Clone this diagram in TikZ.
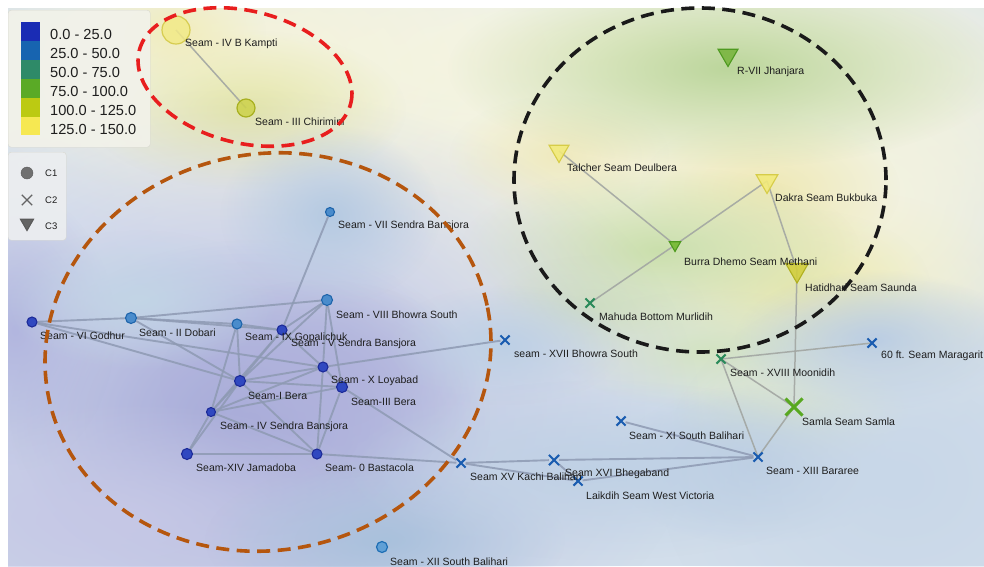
\documentclass[tikz,border=0pt]{standalone}
\usepackage{fontspec}
\setmainfont{Liberation Sans}
\usetikzlibrary{fadings,shapes.geometric,shapes.misc}

\tikzfading[name=softblob, inner color=transparent!0, outer color=transparent!100]

\pgfdeclarelayer{heat}
\pgfdeclarelayer{edges}
\pgfdeclarelayer{top}
\pgfsetlayers{heat,edges,main,top}

% colour scale of the surface
\definecolor{scaleA}{HTML}{1A2CB4}
\definecolor{scaleB}{HTML}{1764B0}
\definecolor{scaleC}{HTML}{2E8A68}
\definecolor{scaleD}{HTML}{5AAA26}
\definecolor{scaleE}{HTML}{BCCA12}
\definecolor{scaleF}{HTML}{F6E852}
% markers
\definecolor{deepfill}{HTML}{3048C0}
\definecolor{deepline}{HTML}{1C2A98}
\definecolor{midfill}{HTML}{4A8CCC}
\definecolor{midline}{HTML}{1E64AA}
\definecolor{crossblue}{HTML}{1A5CB0}
\definecolor{crossgreen}{HTML}{2A8A5A}
\definecolor{crosslime}{HTML}{58A820}
\definecolor{linkgray}{HTML}{8E9AB3}
\definecolor{linkpale}{HTML}{A2A6A2}
\definecolor{labelink}{HTML}{1E1E1E}
\definecolor{ringred}{HTML}{E81E1E}
\definecolor{ringbrown}{HTML}{B5560E}
\definecolor{ringblack}{HTML}{1A1A1A}

% one soft patch of the interpolated surface
\newcommand\heatspot[5]{\fill[fill={#1}, path fading=softblob] (#2,#3) ellipse ({2*#4pt} and {2*#5pt});}

\begin{document}
\begin{tikzpicture}[x=1pt,y=-1pt,
  cone/.style={circle, inner sep=0pt, minimum size=#1, fill=deepfill, draw=deepline, line width=1.1pt},
  cone/.default=10pt,
  conelight/.style={circle, inner sep=0pt, minimum size=#1, fill=midfill, draw=midline, line width=1.1pt},
  conelight/.default=10pt,
  ctwo/.style={cross out, inner sep=0pt, minimum size=7pt, draw=crossblue, line width=2.1pt},
  ctwogreen/.style={ctwo, draw=crossgreen},
  cthree/.style={regular polygon, regular polygon sides=3, shape border rotate=180, inner sep=0pt,
     minimum size=#1, line width=1.1pt},
  lab/.style={anchor=west, inner sep=0pt, text=labelink, font=\fontsize{10.5}{12}\selectfont},
  keytext/.style={anchor=west, inner sep=0pt, text=labelink, font=\fontsize{14.6}{16}\selectfont},
  keysmall/.style={anchor=west, inner sep=0pt, text=labelink, font=\fontsize{9.5}{11}\selectfont},
  link/.style={draw=linkgray, line width=1.9pt, opacity=.85},
  linkr/.style={draw=linkpale, line width=1.5pt, opacity=.9},
  ring/.style={line width=3.6pt, dash pattern=on 13pt off 7.5pt},
]
\useasboundingbox (0,0) rectangle (984,566);

% ---------- interpolated surface ----------
\begin{pgfonlayer}{heat}
\fill[white] (0,0) rectangle (984,566);
\begin{scope}
\clip (8,8) rectangle (984,566);
\fill[fill={rgb,255:red,210;green,222;blue,235}] (8,8) rectangle (984,566);
\heatspot{rgb,255:red,238;green,242;blue,244}{470}{160}{300}{150}
\heatspot{rgb,255:red,226;green,234;blue,241}{250}{230}{200}{80}
\heatspot{rgb,255:red,248;green,247;blue,228}{620}{50}{380}{90}
\heatspot{rgb,255:red,246;green,244;blue,218}{250}{70}{150}{90}
\heatspot{rgb,255:red,246;green,243;blue,216}{720}{190}{200}{110}
\heatspot{rgb,255:red,243;green,243;blue,224}{880}{200}{120}{120}
\heatspot{rgb,255:red,242;green,240;blue,204}{840}{290}{90}{50}
\heatspot{rgb,255:red,239;green,234;blue,190}{559}{155}{55}{30}
\heatspot{rgb,255:red,239;green,233;blue,182}{770}{190}{65}{38}
\heatspot{rgb,255:red,235;green,233;blue,178}{800}{285}{65}{38}
\heatspot{rgb,255:red,228;green,230;blue,170}{246}{110}{80}{40}
\heatspot{rgb,255:red,241;green,237;blue,188}{176}{32}{45}{28}
\heatspot{rgb,255:red,188;green,214;blue,156}{728}{68}{140}{50}
\heatspot{rgb,255:red,202;green,223;blue,172}{660}{250}{100}{42}
\heatspot{rgb,255:red,210;green,227;blue,189}{595}{305}{55}{25}
\heatspot{rgb,255:red,211;green,227;blue,194}{710}{350}{75}{30}
\heatspot{rgb,255:red,230;green,238;blue,194}{790}{410}{60}{30}
\heatspot{rgb,255:red,188;green,192;blue,227}{240}{410}{230}{160}
\heatspot{rgb,255:red,166;green,170;blue,216}{250}{420}{120}{90}
\heatspot{rgb,255:red,176;green,178;blue,220}{320}{380}{80}{50}
\heatspot{rgb,255:red,178;green,182;blue,223}{15}{330}{50}{70}
\heatspot{rgb,255:red,198;green,200;blue,230}{110}{520}{150}{60}
\heatspot{rgb,255:red,181;green,202;blue,226}{330}{215}{55}{45}
\heatspot{rgb,255:red,194;green,213;blue,230}{140}{300}{70}{35}
\heatspot{rgb,255:red,189;green,208;blue,229}{505}{345}{60}{30}
\heatspot{rgb,255:red,169;green,193;blue,220}{385}{540}{90}{40}
\heatspot{rgb,255:red,179;green,199;blue,223}{755}{465}{70}{40}
\heatspot{rgb,255:red,182;green,202;blue,226}{875}{340}{70}{35}
\heatspot{rgb,255:red,191;green,209;blue,229}{600}{470}{130}{45}
\heatspot{rgb,255:red,200;green,215;blue,232}{900}{480}{120}{100}
\end{scope}
\end{pgfonlayer}

% ---------- value key ----------
\node[draw={rgb,255:red,216;green,216;blue,208}, fill={rgb,255:red,242;green,242;blue,234}, fill opacity=.92,
  rounded corners=3pt, minimum width=142pt, minimum height=137pt, inner sep=0pt, anchor=north west]
  (valuekey) at (8,10) {};
\foreach \c [count=\i] in {scaleA,scaleB,scaleC,scaleD,scaleE,scaleF}
  \fill[\c] (21,{22+(\i-1)*18.9}) rectangle (40,{22+\i*18.9});
\node[keytext] (kA) at (50,34) {0.0 - 25.0};
\node[keytext] (kB) at (50,53) {25.0 - 50.0};
\node[keytext] (kC) at (50,72) {50.0 - 75.0};
\node[keytext] (kD) at (50,91) {75.0 - 100.0};
\node[keytext] (kE) at (50,110) {100.0 - 125.0};
\node[keytext] (kF) at (50,129) {125.0 - 150.0};

% ---------- class key ----------
\node[draw={rgb,255:red,216;green,216;blue,208}, fill={rgb,255:red,236;green,238;blue,240}, fill opacity=.92,
  rounded corners=3pt, minimum width=58pt, minimum height=88pt, inner sep=0pt, anchor=north west]
  (classkey) at (8,152) {};
\node[circle, fill={rgb,255:red,112;green,112;blue,112}, draw={rgb,255:red,90;green,90;blue,90},
  minimum size=12pt, inner sep=0pt] (kone) at (27,173) {};
\node[cross out, draw={rgb,255:red,100;green,100;blue,100}, line width=1.4pt, minimum size=9pt, inner sep=0pt]
  (ktwo) at (27,200) {};
\node[cthree=15pt, fill={rgb,255:red,100;green,100;blue,100}, draw={rgb,255:red,90;green,90;blue,90}]
  (kthree) at (27,223) {};
\node[keysmall] (kCone) at (45,173) {C1};
\node[keysmall] (kCtwo) at (45,200) {C2};
\node[keysmall] (kCthree) at (45,226) {C3};

% ---------- seams ----------
% C1 (circles)
\node[circle, inner sep=0pt, minimum size=28pt, fill={rgb,255:red,242;green,234;blue,136}, fill opacity=.85,
  draw={rgb,255:red,214;green,204;blue,80}, line width=1.2pt] (kampti) at (176,30) {};
\node[circle, inner sep=0pt, minimum size=18pt, fill={rgb,255:red,205;green,210;blue,74}, fill opacity=.85,
  draw={rgb,255:red,168;green,176;blue,32}, line width=1.2pt] (chirimiri) at (246,108) {};
\node[conelight=9pt] (sendraVII) at (330,212) {};
\node[conelight=11pt] (bhowraVIII) at (327,300) {};
\node[cone=10pt] (godhur) at (32,322) {};
\node[conelight=11pt] (dobari) at (131,318) {};
\node[conelight=10pt] (gopalichuk) at (237,324) {};
\node[cone=10pt] (sendraV) at (282,330) {};
\node[cone=10pt] (loyabad) at (323,367) {};
\node[cone=11pt] (beraI) at (240,381) {};
\node[cone=11pt] (beraIII) at (342,387) {};
\node[cone=9pt] (sendraIV) at (211,412) {};
\node[cone=11pt] (jamadoba) at (187,454) {};
\node[cone=10pt] (bastacola) at (317,454) {};
\node[circle, inner sep=0pt, minimum size=11pt, fill={rgb,255:red,96;green,160;blue,214},
  draw={rgb,255:red,30;green,110;blue,180}, line width=1.2pt] (southXII) at (382,547) {};
% C2 (crosses)
\node[ctwo] (bhowraXVII) at (505,340) {};
\node[ctwo] (kachi) at (461,463) {};
\node[ctwo, minimum size=8pt] (bhegaband) at (554,460) {};
\node[ctwo] (laikdih) at (578,481) {};
\node[ctwo] (southXI) at (621,421) {};
\node[ctwo] (bararee) at (758,457) {};
\node[ctwo] (maragarit) at (872,343) {};
\node[ctwogreen] (moonidih) at (721,359) {};
\node[ctwogreen] (mahuda) at (590,303) {};
\node[cross out, inner sep=0pt, minimum size=14pt, draw=crosslime, line width=3pt] (samla) at (794,407) {};
% C3 (triangles)
\node[cthree=23pt, fill={rgb,255:red,242;green,234;blue,122}, fill opacity=.9,
  draw={rgb,255:red,214;green,204;blue,72}] (talcher) at (559,151) {};
\node[cthree=25pt, fill={rgb,255:red,242;green,234;blue,122}, fill opacity=.9,
  draw={rgb,255:red,214;green,204;blue,72}] (dakra) at (767,181) {};
\node[cthree=26pt, fill={rgb,255:red,210;green,206;blue,62}, fill opacity=.9,
  draw={rgb,255:red,176;green,176;blue,32}] (hatidhari) at (797,270) {};
\node[cthree=13pt, fill={rgb,255:red,124;green,188;blue,60},
  draw={rgb,255:red,78;green,154;blue,30}] (burra) at (675,245) {};
\node[cthree=23pt, fill={rgb,255:red,128;green,184;blue,72},
  draw={rgb,255:red,78;green,154;blue,32}] (jhanjara) at (728,55) {};

% ---------- labels ----------
\node[lab] (lkampti) at (185,44) {Seam - IV B Kampti};
\node[lab] (lchirimiri) at (255,122) {Seam - III Chirimini};
\node[lab] (lsendraVII) at (338,226) {Seam - VII Sendra Bansjora};
\node[lab] (lbhowraVIII) at (336,315) {Seam - VIII Bhowra South};
\node[lab] (lgodhur) at (40,336) {Seam - VI Godhur};
\node[lab] (ldobari) at (139,333) {Seam - II Dobari};
\node[lab] (lgopalichuk) at (245,338) {Seam - IX Gopalichuk};
\node[lab] (lsendraV) at (291,344) {Seam - V Sendra Bansjora};
\node[lab] (lloyabad) at (331,381) {Seam - X Loyabad};
\node[lab] (lberaI) at (248,396) {Seam-I Bera};
\node[lab] (lberaIII) at (351,402) {Seam-III Bera};
\node[lab] (lsendraIV) at (220,427) {Seam - IV Sendra Bansjora};
\node[lab] (ljamadoba) at (196,468) {Seam-XIV Jamadoba};
\node[lab] (lbastacola) at (325,468) {Seam- 0 Bastacola};
\node[lab] (lsouthXII) at (390,562) {Seam - XII South Balihari};
\node[lab] (lbhowraXVII) at (514,354) {seam - XVII Bhowra South};
\node[lab] (lkachi) at (470,477) {Seam XV Kachi Balihari};
\node[lab] (lbhegaband) at (565,474) {Seam XVI Bhegaband};
\node[lab] (llaikdih) at (586,496) {Laikdih Seam West Victoria};
\node[lab] (lsouthXI) at (629,436) {Seam - XI South Balihari};
\node[lab] (lbararee) at (766,471) {Seam - XIII Bararee};
\node[lab] (lmaragarit) at (881,356) {60 ft. Seam Maragarit};
\node[lab] (lmoonidih) at (730,373) {Seam - XVIII Moonidih};
\node[lab] (lmahuda) at (599,317) {Mahuda Bottom Murlidih};
\node[lab] (lsamla) at (802,422) {Samla Seam Samla};
\node[lab] (ltalcher) at (567,168) {Talcher Seam Deulbera};
\node[lab] (ldakra) at (775,198) {Dakra Seam Bukbuka};
\node[lab] (lhatidhari) at (805,288) {Hatidhari Seam Saunda};
\node[lab] (lburra) at (684,262) {Burra Dhemo Seam Methani};
\node[lab] (ljhanjara) at (737,72) {R-VII Jhanjara};

% ---------- links ----------
\begin{pgfonlayer}{edges}
\draw[linkr] (kampti.center) -- (chirimiri.center);
\foreach \a/\b in {godhur/dobari, godhur/loyabad, godhur/beraI, dobari/bhowraVIII, dobari/gopalichuk,
    dobari/sendraV, dobari/beraI, sendraVII/sendraV, bhowraVIII/sendraV, bhowraVIII/loyabad,
    bhowraVIII/beraIII, bhowraVIII/beraI, gopalichuk/sendraV, gopalichuk/beraI, gopalichuk/sendraIV,
    sendraV/beraI, sendraV/sendraIV, sendraV/loyabad, beraI/loyabad, beraI/beraIII, beraI/sendraIV,
    beraI/bastacola, beraI/jamadoba, loyabad/sendraIV, loyabad/bastacola, loyabad/beraIII,
    beraIII/sendraIV, beraIII/bastacola, beraIII/kachi, sendraIV/jamadoba, sendraIV/bastacola,
    jamadoba/bastacola, bastacola/kachi, bhowraXVII/loyabad, kachi/bhegaband, kachi/laikdih,
    bhegaband/laikdih, bhegaband/bararee, laikdih/bararee, southXI/bararee}
  \draw[link] (\a) -- (\b);
\foreach \a/\b in {talcher/burra, burra/dakra, burra/mahuda, dakra/hatidhari, hatidhari/samla,
    moonidih/samla, moonidih/maragarit, moonidih/bararee, samla/bararee}
  \draw[linkr] (\a.center) -- (\b.center);
\end{pgfonlayer}

% ---------- cluster outlines ----------
\begin{pgfonlayer}{top}
\draw[ring, draw=ringred, rotate around={-14:(245,77)}] (245,77) ellipse (109pt and 66pt);
\draw[ring, draw=ringbrown, rotate around={12:(268,352)}] (268,352) ellipse (224pt and 198pt);
\draw[ring, draw=ringblack] (700,180) ellipse (186pt and 172pt);
\end{pgfonlayer}
\end{tikzpicture}
\end{document}
